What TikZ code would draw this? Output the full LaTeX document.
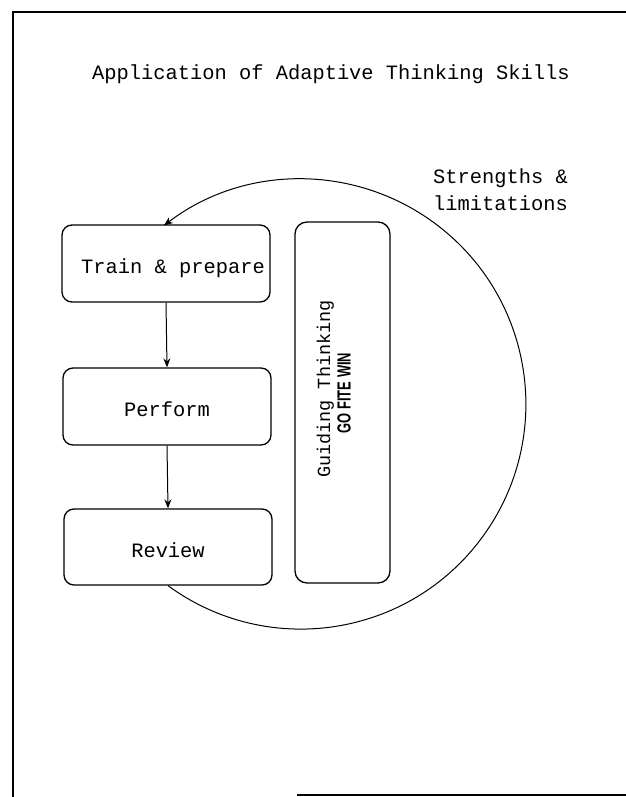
\documentclass[tikz,border=0pt]{standalone}
\usepackage{fontspec}
\setmainfont{Liberation Sans}
\newfontfamily\plotfont{Liberation Mono}
\usetikzlibrary{arrows.meta}
\tikzset{
  frame/.style={line width=2.4pt, line cap=rect},
  stagebox/.style={draw, line width=1.3pt, rounded corners=10pt, inner sep=0pt,
    minimum width=208pt, minimum height=77pt, text height=20pt, text depth=0pt,
    font=\plotfont\fontsize{20.4}{24}\selectfont},
  tallbox/.style={draw, line width=1.3pt, rounded corners=12pt, inner sep=0pt,
    minimum width=95pt, minimum height=361pt},
  plottext/.style={inner sep=0pt, font=\plotfont\fontsize{20.4}{24}\selectfont},
  flow/.style={line width=1pt, -{Stealth[length=9pt,width=7pt]}},
}
\begin{document}
\begin{tikzpicture}[x=1pt,y=-1pt]
\useasboundingbox (0,0) rectangle (625,797);
% frame lines
\coordinate (f1) at (13,12);
\coordinate (f2) at (625,12);
\coordinate (f3) at (13,797);
\coordinate (f4) at (298,795);
\coordinate (f5) at (625,795);
\draw[frame] (f3) -- (f1) -- (f2);
\draw[frame] (f4) -- (f5);
% title
\node[plottext, anchor=base west] (title) at (92,80) {Application of Adaptive Thinking Skills};
\node[plottext, anchor=base west] (sl1) at (433,183) {Strengths \&};
\node[plottext, anchor=base west] (sl2) at (433,210) {limitations};
% stage boxes
\node[stagebox] (tp) at (166,263.5) {\hspace*{14pt}Train \& prepare};
\node[stagebox] (pf) at (167,406.5) {Perform};
\node[stagebox, minimum height=76pt] (rv) at (168,547) {Review};
% guiding box
\node[tallbox] (gt) at (342.5,402.5) {};
\node[inner sep=0pt, rotate=90, anchor=base, font=\plotfont\fontsize{18.5}{22}\selectfont] (gt1) at (330,389) {Guiding Thinking};
\node[inner sep=0pt, rotate=90, anchor=base, font=\bfseries\fontsize{19}{22}\selectfont] (gt2) at (350.5,393) {\scalebox{0.68}[1]{GO FITE WIN}};
% connectors
\draw[flow] (tp.south) -- (pf.north);
\draw[flow] (pf.south) -- (rv.north);
\draw[flow] (rv.south) arc[start angle=-126.2, end angle=127.5, radius=225pt];
\end{tikzpicture}
\end{document}
